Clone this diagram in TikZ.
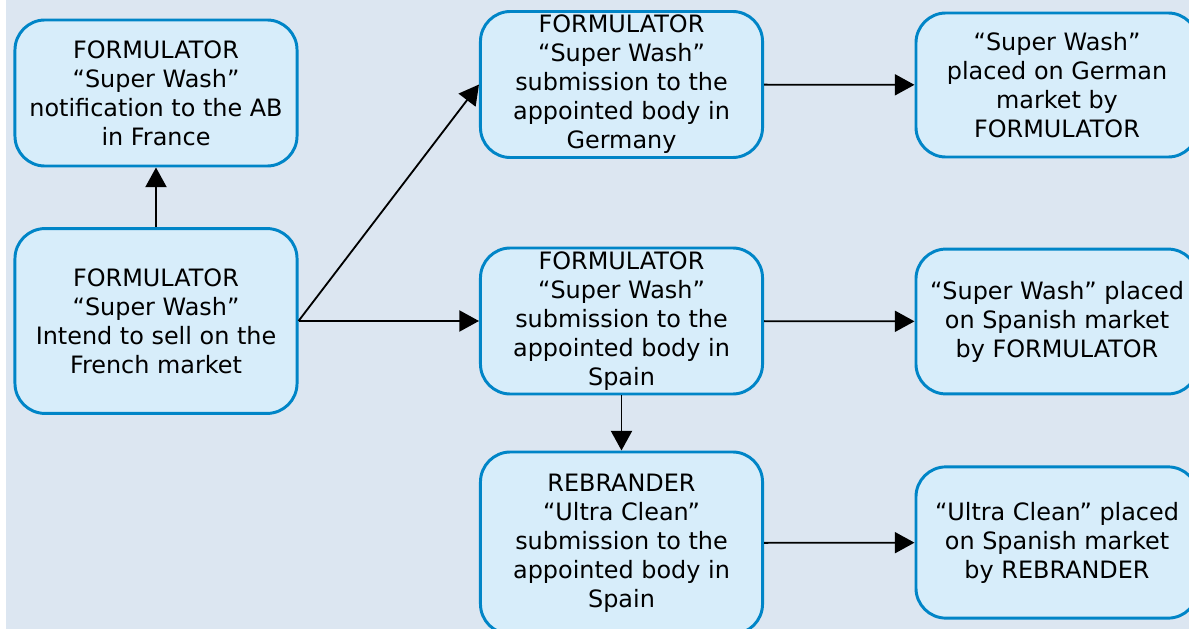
\documentclass[tikz,border=0pt]{standalone}
\usepackage{fontspec}
\setmainfont{DejaVu Sans}
\usetikzlibrary{arrows.meta}
\definecolor{bgblue}{RGB}{220,230,241}
\definecolor{boxfill}{RGB}{215,237,250}
\definecolor{boxline}{RGB}{0,133,199}

\begin{document}
\begin{tikzpicture}
  [x=0.025cm,y=-0.025cm,
   every node/.style={draw=boxline,fill=boxfill,line width=2.1pt,rounded corners=0.75cm,
     minimum width=7.05cm,minimum height=3.65cm,align=center,inner sep=2pt,
     font=\fontsize{17}{20.6}\selectfont}]
  \useasboundingbox (0,0) rectangle (1189,629);
  \clip (0,0) rectangle (1189,629);
  \fill[white] (0,0) rectangle (6,629);
  \fill[bgblue] (6,0) rectangle (1189,629);

  % left column
  \node (fr) at (156,93) {FORMULATOR\\“Super Wash”\\notification to the AB\\in France};
  \node[minimum height=4.62cm] (intent) at (156,321) {FORMULATOR\\“Super Wash”\\Intend to sell on the\\French market};

  % submissions
  \node (subde) at (621.5,84.5) {FORMULATOR\\“Super Wash”\\submission to the\\appointed body in\\Germany};
  \node (subes) at (621.5,321) {FORMULATOR\\“Super Wash”\\submission to the\\appointed body in\\Spain};
  \node[minimum height=4.55cm] (rebr) at (621.5,543) {REBRANDER\\“Ultra Clean”\\submission to the\\appointed body in\\Spain};

  % markets
  \node[minimum height=3.6cm] (mktde) at (1057,85) {“Super Wash”\\placed on German\\market by\\FORMULATOR};
  \node[minimum height=3.62cm] (mktes) at (1057,321.5) {“Super Wash” placed\\on Spanish market\\by FORMULATOR};
  \node[minimum height=3.78cm] (mktuc) at (1057,542.5) {“Ultra Clean” placed\\on Spanish market\\by REBRANDER};

  \foreach \from/\to in {intent.north/fr.south,intent.east/subde.west,intent.east/subes.west,
      subde/mktde,subes/mktes,subes/rebr,rebr/mktuc}
    \draw[line width=1.3pt,-{Triangle[length=14pt,width=15pt]}] (\from) -- (\to);

\end{tikzpicture}
\end{document}
